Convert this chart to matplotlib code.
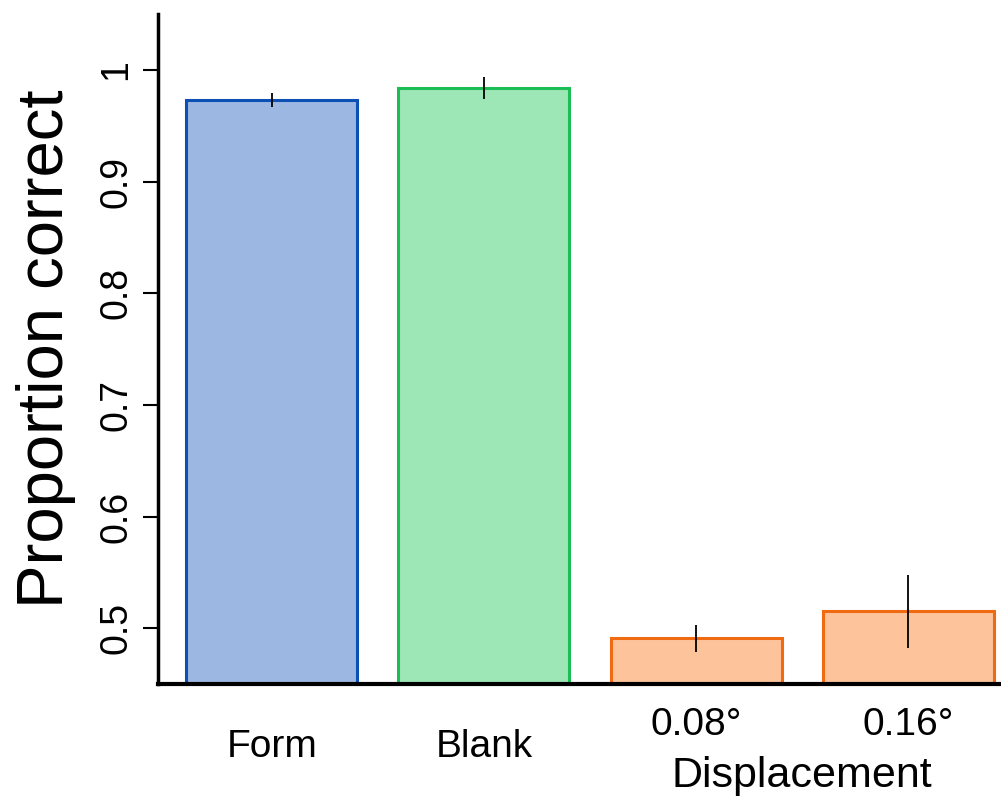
import numpy as np
import matplotlib.pyplot as plt

plt.rcParams['font.family'] = ['Liberation Sans', 'DejaVu Sans']

# data
conditions = ['Form', 'Blank', '0.08°', '0.16°']
prop_correct = [0.973, 0.984, 0.491, 0.515]
err = [0.006, 0.010, 0.012, 0.033]
fill_colors = ['#9db7e3', '#9de6b5', '#fdc49c', '#fdc49c']
edge_colors = ['#0c4fb5', '#1dbd55', '#f06a12', '#f06a12']
yticks = [0.5, 0.6, 0.7, 0.8, 0.9, 1.0]
ytick_labels = ['0.5', '0.6', '0.7', '0.8', '0.9', '1']

fig = plt.figure(figsize=(10.01, 8), dpi=100)
ax = fig.add_axes([0.158, 0.145, 0.842, 0.8375])

x = np.arange(len(conditions))
ax.bar(x, prop_correct, width=0.806, bottom=0, color=fill_colors,
       edgecolor=edge_colors, linewidth=2.2, zorder=2)
ax.errorbar(x, prop_correct, yerr=err, fmt='none', ecolor='black',
            elinewidth=1.3, capsize=0, zorder=3)

ax.set_xlim(-0.535, 3.436)
ax.set_ylim(0.45, 1.05)

ax.spines['top'].set_visible(False)
ax.spines['right'].set_visible(False)
ax.spines['left'].set_linewidth(2.5)
ax.spines['bottom'].set_linewidth(3)

ax.set_yticks(yticks)
ax.set_yticklabels(ytick_labels, rotation=90, va='center', fontsize=27)
ax.tick_params(axis='y', direction='out', length=11, width=1.5, pad=6)
ax.set_xticks([])

ax.set_ylabel('Proportion correct', fontsize=47, labelpad=16)

# category labels under the bars
trans = ax.get_xaxis_transform()
for xi, lab in zip(x, conditions):
    yy = -0.094 if xi < 2 else -0.061
    ax.text(xi, yy, lab, transform=trans, ha='center', va='center', fontsize=28)
ax.text(np.mean(x[2:]), -0.137, 'Displacement', transform=trans,
        ha='center', va='center', fontsize=31)

fig.savefig('out.png', dpi=100)
